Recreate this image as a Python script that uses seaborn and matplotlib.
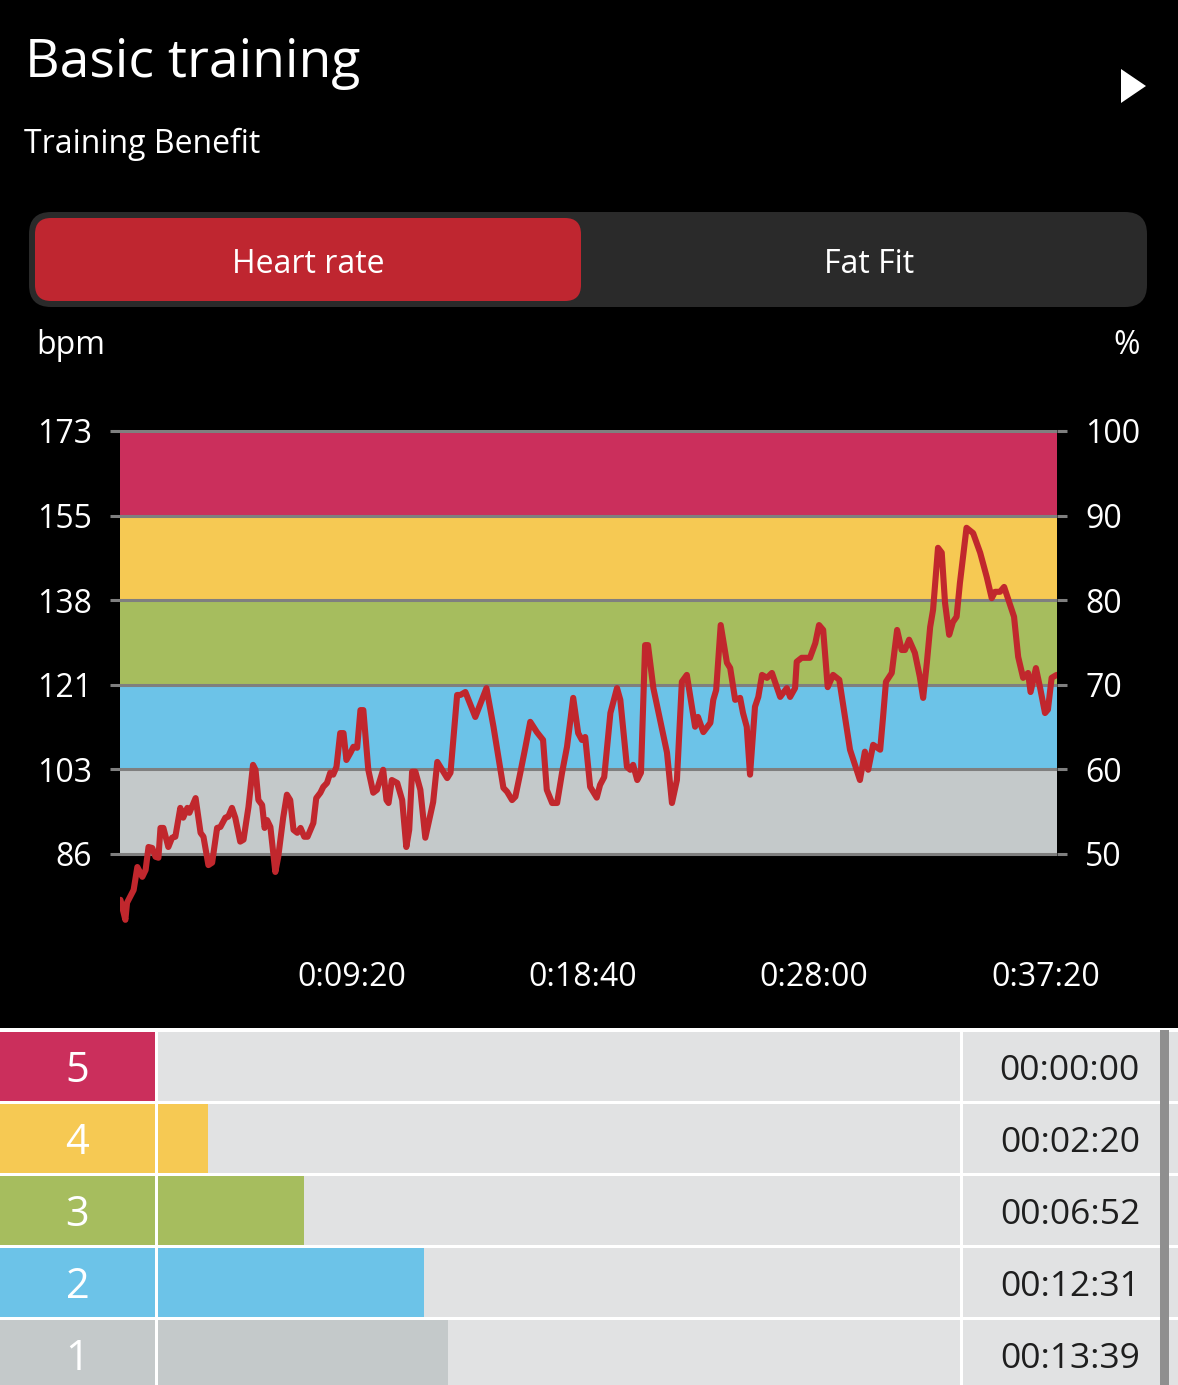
import numpy as np
import pandas as pd
import matplotlib
matplotlib.use("Agg")
import matplotlib.pyplot as plt
from matplotlib.patches import FancyBboxPatch, Polygon, Rectangle
import seaborn as sns

# --- values ---
max_hr = 173
zone_pct = [50, 60, 70, 80, 90, 100]
bpm_labels = ["86", "103", "121", "138", "155", "173"]
pct_labels = ["50", "60", "70", "80", "90", "100"]

time_ticks = [560, 1120, 1680, 2240]
time_tick_labels = ["0:09:20", "0:18:40", "0:28:00", "0:37:20"]
session_secs = 2268

# heart rate trace (seconds, bpm)
hr_time = [
    1, 13, 17, 33, 42, 54, 62, 69, 78, 86, 93, 98, 105, 117, 126, 134, 146, 153,
    163, 168, 183, 195, 202, 214, 223, 235, 243, 255, 262, 271, 279, 291, 299,
    311, 322, 328, 335, 344, 350, 356, 364, 376, 383, 395, 404, 412, 420, 429,
    437, 446, 454, 468, 475, 485, 492, 501, 509, 516, 524, 533, 541, 548, 558,
    565, 574, 582, 589, 601, 613, 622, 637, 645, 650, 658, 671, 683, 693, 700,
    707, 715, 727, 739, 758, 768, 792, 800, 816, 824, 836, 860, 887, 904, 928,
    937, 949, 957, 969, 981, 993, 1009, 1024, 1033, 1046, 1058, 1070, 1082,
    1097, 1109, 1118, 1126, 1138, 1154, 1162, 1172, 1187, 1203, 1211, 1227,
    1235, 1242, 1252, 1261, 1271, 1278, 1291, 1324, 1336, 1348, 1360, 1372,
    1392, 1399, 1412, 1429, 1436, 1443, 1454, 1469, 1477, 1489, 1501, 1508,
    1517, 1525, 1537, 1545, 1554, 1566, 1578, 1598, 1614, 1622, 1634, 1638,
    1650, 1670, 1683, 1692, 1702, 1713, 1726, 1741, 1767, 1791, 1803, 1811,
    1823, 1840, 1847, 1854, 1868, 1881, 1892, 1900, 1910, 1924, 1936, 1944,
    1953, 1961, 1968, 1980, 1989, 1997, 2007, 2016, 2025, 2033, 2049, 2065,
    2082, 2098, 2110, 2118, 2130, 2140, 2149, 2164, 2174, 2186, 2198, 2204,
    2217, 2227, 2239, 2246, 2255, 2267,
]
hr_bpm = [
    77.1, 73.0, 76.5, 79.1, 83.8, 81.8, 83.2, 87.9, 87.7, 85.9, 85.7, 91.8, 91.8,
    87.9, 89.8, 90.0, 95.9, 93.9, 95.9, 94.9, 97.9, 90.8, 90.0, 84.2, 84.7,
    91.8, 92.0, 93.9, 94.1, 95.9, 93.9, 89.0, 89.4, 96.1, 104.7, 103.7, 97.5,
    96.5, 91.8, 93.4, 92.0, 82.8, 85.9, 93.9, 98.6, 97.5, 91.4, 90.8, 91.8,
    90.0, 90.0, 92.8, 97.9, 99.0, 100.2, 101.0, 103.1, 102.7, 104.3, 111.2,
    111.2, 105.7, 107.2, 108.4, 108.2, 115.9, 115.9, 103.7, 99.0, 99.6, 103.7,
    97.5, 96.9, 101.6, 101.0, 97.5, 87.9, 91.4, 103.3, 103.3, 99.6, 89.8, 97.1,
    105.3, 102.0, 103.1, 119.0, 119.0, 119.6, 114.5, 120.4, 112.5, 100.0,
    99.2, 97.5, 98.2, 103.1, 108.2, 113.5, 111.4, 109.8, 99.6, 96.9, 96.9,
    103.1, 108.4, 118.4, 111.2, 109.8, 110.4, 100.2, 98.0, 100.6, 102.2,
    115.3, 120.4, 118.0, 104.3, 103.7, 104.7, 101.6, 103.1, 129.2, 129.2,
    120.4, 107.2, 96.9, 101.6, 121.7, 123.1, 112.5, 114.5, 111.4, 113.3,
    118.0, 120.0, 133.3, 125.6, 124.5, 118.0, 118.4, 115.3, 112.5, 102.7,
    116.6, 118.6, 123.1, 122.5, 123.5, 118.6, 120.4, 118.6, 120.4, 125.8,
    126.6, 126.6, 129.6, 133.3, 132.3, 120.6, 123.1, 122.1, 107.8, 101.6,
    107.4, 103.7, 108.8, 107.8, 114.5, 121.7, 123.5, 132.3, 128.2, 128.2,
    130.3, 127.6, 122.7, 118.4, 125.6, 132.9, 136.4, 149.1, 148.1, 137.8,
    131.3, 133.9, 135.0, 141.9, 153.2, 152.1, 148.1, 143.1, 138.8, 140.1,
    140.1, 141.1, 138.8, 135.0, 126.8, 122.5, 123.5, 119.6, 124.5, 120.5,
    115.3, 116.0, 122.5, 123.1,
]

# time in each zone (table at the bottom), top row first
zone_names = ["5", "4", "3", "2", "1"]
zone_secs = [0, 140, 412, 751, 819]
zone_colors = ["#cb2f5c", "#f6c953", "#a6bd5e", "#6cc3e8", "#c4c9ca"]

line_red = "#c1272d"
grid_col = "#7f7f7f"
cell_bg = "#e1e2e3"

sns.set_theme(style="white")
plt.rcParams["font.family"] = ["Open Sans", "DejaVu Sans"]

W, H = 1178, 1385
fig = plt.figure(figsize=(W / 100, H / 100), dpi=100, facecolor="black")

# background layer in pixel coordinates (header, toggle, table frame)
bg = fig.add_axes([0, 0, 1, 1], zorder=-1)
bg.set_xlim(0, W)
bg.set_ylim(H, 0)
bg.axis("off")
bg.add_patch(Rectangle((0, 0), W, H, fc="black", lw=0))
bg.text(25, 77, "Basic training", color="white", fontsize=38.5, va="baseline")
bg.text(24, 153, "Training Benefit", color="white", fontsize=23, va="baseline")
bg.add_patch(Polygon([(1121, 69), (1121, 103), (1146, 86)], closed=True, fc="white", lw=0))
bg.add_patch(FancyBboxPatch((29, 212), 1118, 95, boxstyle="round,pad=0,rounding_size=22",
                            fc="#2a2a2a", lw=0))
bg.add_patch(FancyBboxPatch((35, 218), 546, 83, boxstyle="round,pad=0,rounding_size=16",
                            fc="#bf2630", lw=0))
bg.text(308, 273, "Heart rate", color="white", fontsize=23, ha="center", va="baseline")
bg.text(869, 273, "Fat Fit", color="white", fontsize=23, ha="center", va="baseline")
bg.text(36, 354, "bpm", color="white", fontsize=23, va="baseline")
bg.text(1140, 354, "%", color="white", fontsize=23, ha="right", va="baseline")
bg.add_patch(Rectangle((0, 1028), W, H - 1028, fc="white", lw=0))

# --- heart rate chart ---
ax = fig.add_axes([120 / W, 1 - 934.5 / H, 937 / W, 504.5 / H])
ax.set_facecolor("black")
bounds = [p * max_hr / 100 for p in zone_pct]
for lo, hi, c in zip(bounds[:-1], bounds[1:], zone_colors[::-1]):
    ax.axhspan(lo, hi, color=c, lw=0, zorder=0)
for b in bounds:
    ax.axhline(b, color=grid_col, lw=2.2, zorder=1)

df = pd.DataFrame({"t": hr_time, "hr": hr_bpm})
sns.lineplot(data=df, x="t", y="hr", ax=ax, color=line_red, linewidth=4.4, zorder=3,
             solid_joinstyle="round", solid_capstyle="round")
ax.set_xlim(0, session_secs)
ax.set_ylim(70.0, 173.2)
ax.set_xlabel("")
ax.set_ylabel("")
ax.grid(False)
ax.set_xticks(time_ticks, time_tick_labels)
ax.set_yticks(bounds, bpm_labels)
ax.tick_params(axis="x", length=0, pad=19, labelcolor="white", labelsize=23)
ax.tick_params(axis="y", length=7.2, width=2.2, color=grid_col, pad=13,
               labelcolor="white", labelsize=23, left=True)
for s in ax.spines.values():
    s.set_visible(False)

ax2 = ax.twinx()
ax2.set_ylim(ax.get_ylim())
ax2.set_yticks(bounds, pct_labels)
ax2.tick_params(axis="y", length=7.2, width=2.2, color=grid_col, pad=13,
                labelcolor="white", labelsize=23, right=True)
ax2.grid(False)
for s in ax2.spines.values():
    s.set_visible(False)

# --- time-in-zone table ---
row_h = 69 / 72
tb, th = 1 - 1390.5 / H, 360 / H
n = len(zone_names)

ax_lab = fig.add_axes([0, tb, 155 / W, th])
ax_lab.barh(range(n), [1] * n, height=row_h, color=zone_colors, linewidth=0)
for i, z in enumerate(zone_names):
    ax_lab.text(0.5, i, z, color="white", fontsize=30, ha="center", va="center_baseline")
ax_lab.set_xlim(0, 1)
ax_lab.set_ylim(n - 0.5, -0.5)
ax_lab.axis("off")

ax_bar = fig.add_axes([158 / W, tb, 802 / W, th])
sns.barplot(x=zone_secs, y=zone_names, hue=zone_names, order=zone_names,
            hue_order=zone_names, palette=dict(zip(zone_names, zone_colors)),
            orient="h", width=row_h, saturation=1, legend=False, linewidth=0, ax=ax_bar)
ax_bar.barh(range(n), [session_secs] * n, height=row_h, color=cell_bg, linewidth=0, zorder=0)
ax_bar.set_xlim(0, session_secs)
ax_bar.set_ylim(n - 0.5, -0.5)
ax_bar.axis("off")

ax_time = fig.add_axes([963 / W, tb, 215 / W, th])
ax_time.barh(range(n), [1] * n, height=row_h, color=cell_bg, linewidth=0)
for i, s in enumerate(zone_secs):
    lbl = f"{s // 3600:02d}:{s % 3600 // 60:02d}:{s % 60:02d}"
    ax_time.text(0.823, i, lbl, color="#1e1e1e", fontsize=25.5, ha="right",
                 va="center_baseline")
ax_time.set_xlim(0, 1)
ax_time.set_ylim(n - 0.5, -0.5)
ax_time.axis("off")

# scroll indicator on the right edge of the table
fig.add_artist(Rectangle((1160 / W, 0), 9 / W, (H - 1030) / H, transform=fig.transFigure,
                         fc="#8f8f8f", lw=0, zorder=5))

fig.savefig("out.png", dpi=100, facecolor="black")
